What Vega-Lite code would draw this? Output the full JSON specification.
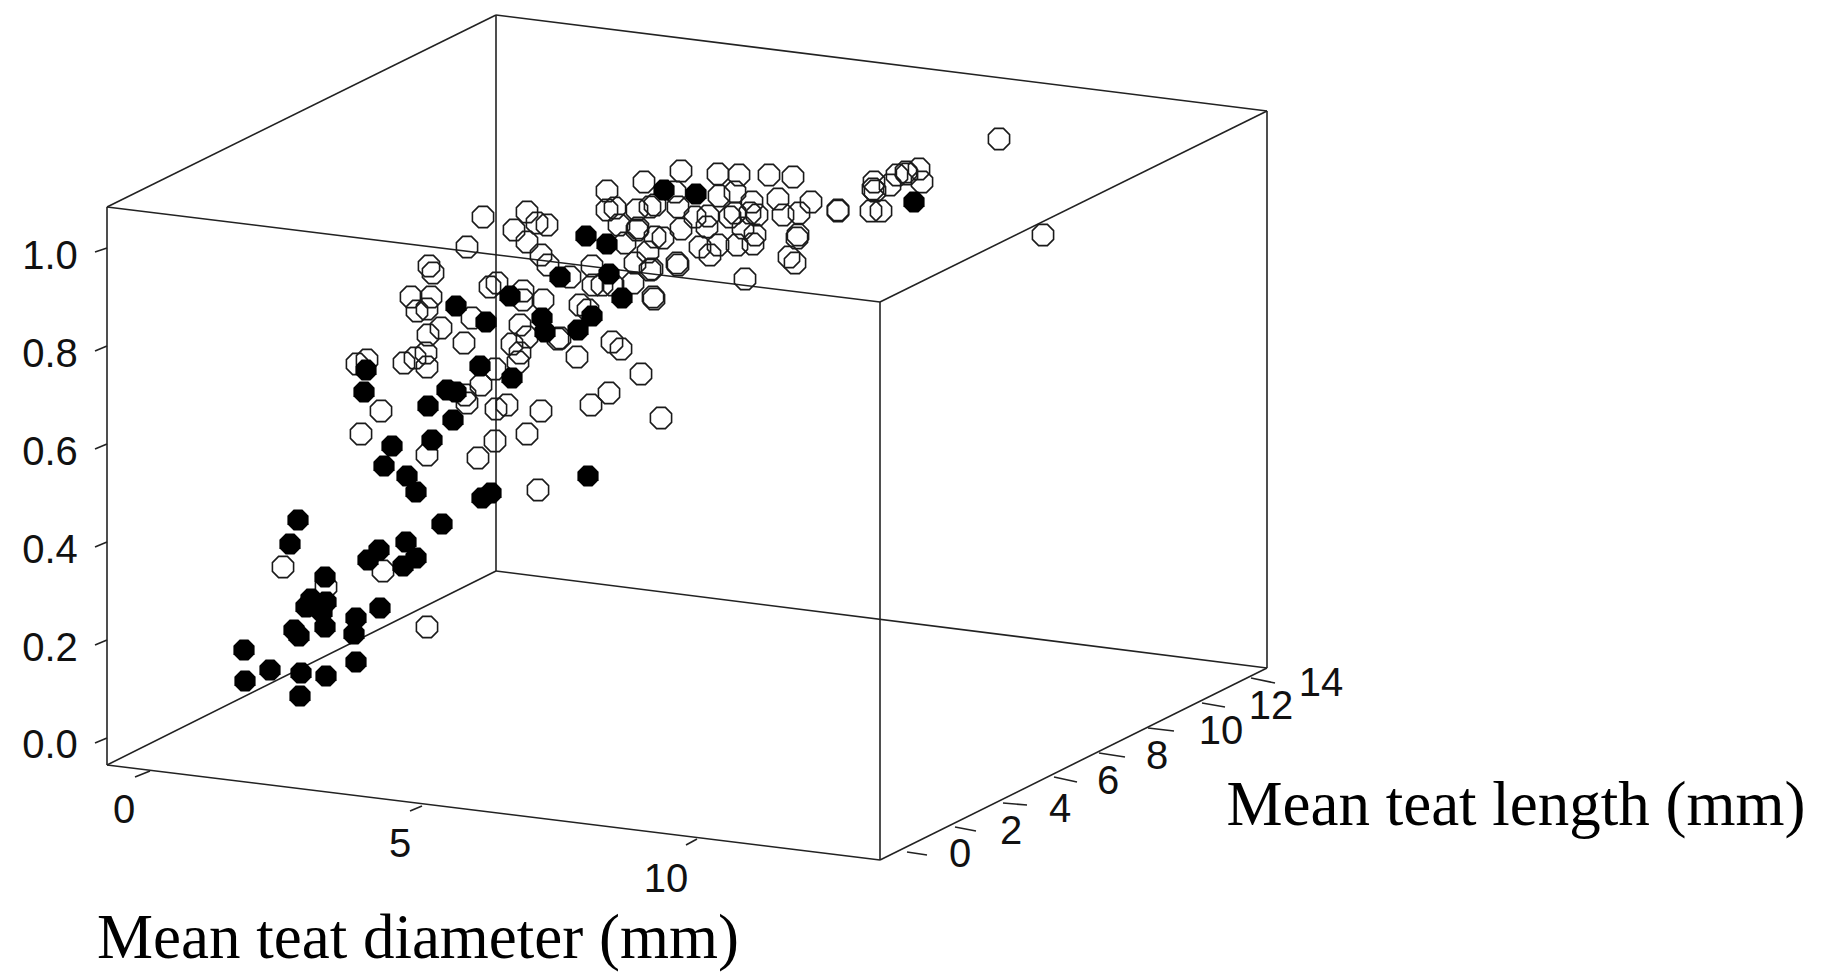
{"$schema":"https://vega.github.io/schema/vega-lite/v6.json","width":1821,"height":976,"padding":0,"autosize":{"type":"fit","contains":"padding"},"background":"white","view":{"stroke":null},
"datasets":{
"edges":[{"a":107,"b":207,"c":496,"d":15},{"a":496,"b":15,"c":1267,"d":111},{"a":1267,"b":111,"c":880,"d":302},{"a":880,"b":302,"c":107,"d":207},{"a":107,"b":207,"c":107,"d":765},{"a":496,"b":15,"c":496,"d":571},{"a":1267,"b":111,"c":1267,"d":668},{"a":880,"b":302,"c":880,"d":860},{"a":107,"b":765,"c":880,"d":860},{"a":880,"b":860,"c":1267,"d":668},{"a":1267,"b":668,"c":496,"d":571},{"a":496,"b":571,"c":107,"d":765},
{"a":135,"b":777,"c":150,"d":771},{"a":410,"b":811,"c":422,"d":806},{"a":686,"b":845,"c":697,"d":839},
{"a":907,"b":852,"c":927,"d":855},{"a":955,"b":827,"c":976,"d":831},{"a":1003,"b":803,"c":1027,"d":805},{"a":1054,"b":777,"c":1077,"d":782},{"a":1099,"b":753,"c":1125,"d":757},{"a":1148,"b":728,"c":1174,"d":731},{"a":1202,"b":703,"c":1225,"d":707},{"a":1251,"b":678,"c":1275,"d":683},
{"a":95,"b":252,"c":107,"d":248},{"a":95,"b":351,"c":107,"d":346},{"a":95,"b":449,"c":107,"d":444},{"a":95,"b":547,"c":107,"d":542},{"a":95,"b":645,"c":107,"d":640},{"a":95,"b":743,"c":107,"d":738}],
"open":[[283,567],[326,587],[383,571],[427,627],[361,434],[381,411],[427,455],[478,458],[495,441],[527,434],[483,217],[527,212],[537,223],[547,225],[514,230],[527,242],[467,247],[541,255],[429,266],[433,273],[548,265],[570,277],[592,266],[411,297],[431,297],[417,311],[427,309],[490,287],[497,283],[523,291],[543,300],[523,300],[472,318],[441,328],[428,335],[464,343],[520,325],[512,344],[527,337],[520,353],[518,362],[558,339],[577,357],[580,305],[588,310],[404,363],[415,358],[426,353],[427,367],[357,364],[367,360],[495,369],[481,385],[465,395],[467,403],[507,405],[496,409],[541,411],[591,405],[609,393],[641,374],[661,418],[538,490],[612,342],[621,349],[593,285],[602,285],[613,285],[625,243],[607,210],[615,208],[619,225],[637,210],[650,207],[638,228],[655,237],[663,238],[635,263],[650,270],[648,252],[633,283],[653,297],[654,299],[677,263],[607,191],[999,139],[1043,235],[681,171],[718,174],[739,175],[769,175],[793,177],[644,182],[675,192],[735,192],[719,196],[752,202],[778,199],[811,202],[655,205],[678,207],[695,217],[708,216],[735,213],[730,217],[757,215],[750,213],[783,215],[799,213],[838,210],[838,211],[871,211],[881,211],[874,182],[873,189],[875,191],[890,185],[897,175],[906,172],[907,174],[919,169],[922,182],[637,230],[681,229],[707,227],[700,247],[718,245],[737,245],[753,244],[755,235],[743,228],[798,235],[797,238],[710,255],[652,269],[678,265],[745,279],[789,257],[795,263],[560,338]],
"solid":[[298,520],[290,544],[325,577],[311,599],[306,607],[326,602],[322,612],[325,627],[294,630],[299,636],[356,618],[354,634],[380,608],[368,560],[379,550],[406,542],[416,558],[403,566],[442,524],[482,498],[491,493],[244,650],[245,681],[270,670],[301,673],[326,676],[356,662],[300,696],[392,446],[384,466],[407,476],[416,492],[432,440],[428,406],[453,420],[456,306],[486,322],[510,296],[560,277],[586,236],[607,244],[609,274],[622,298],[592,316],[578,330],[542,318],[545,332],[480,366],[512,378],[366,370],[364,392],[447,390],[456,392],[588,476],[664,190],[696,194],[914,202]],
"ticks":[{"t":"1.0","a":50,"b":269},{"t":"0.8","a":50,"b":367},{"t":"0.6","a":50,"b":465},{"t":"0.4","a":50,"b":563},{"t":"0.2","a":50,"b":661},{"t":"0.0","a":50,"b":758},{"t":"0","a":124,"b":823},{"t":"5","a":400,"b":857},{"t":"10","a":666,"b":892},{"t":"0","a":960,"b":867},{"t":"2","a":1011,"b":844},{"t":"4","a":1060,"b":822},{"t":"6","a":1108,"b":794},{"t":"8","a":1157,"b":769},{"t":"10","a":1221,"b":744},{"t":"12","a":1271,"b":719},{"t":"14","a":1321,"b":696}],
"titles":[{"t":"Mean teat diameter (mm)","a":418,"b":958,"fs":"diameter"},{"t":"Mean teat length (mm)","a":1516,"b":825,"fs":"length"}]
},
"layer":[
{"data":{"name":"edges"},"mark":{"type":"rule","stroke":"#222222","strokeWidth":1.6},"encoding":{"x":{"field":"a","type":"quantitative","scale":{"domain":[0,1821],"nice":false,"zero":false},"axis":null},"y":{"field":"b","type":"quantitative","scale":{"domain":[976,0],"nice":false,"zero":false},"axis":null},"x2":{"field":"c"},"y2":{"field":"d"}}},
{"data":{"name":"open"},"mark":{"type":"point","filled":false,"stroke":"#1a1a1a","strokeWidth":1.6,"opacity":1,"size":530,"shape":"M-0.38,-0.92L0.38,-0.92L0.92,-0.38L0.92,0.38L0.38,0.92L-0.38,0.92L-0.92,0.38L-0.92,-0.38Z"},"encoding":{"x":{"field":"0","type":"quantitative"},"y":{"field":"1","type":"quantitative"}}},
{"data":{"name":"solid"},"mark":{"type":"point","filled":true,"fill":"#000000","opacity":1,"size":530,"shape":"M-0.38,-0.92L0.38,-0.92L0.92,-0.38L0.92,0.38L0.38,0.92L-0.38,0.92L-0.92,0.38L-0.92,-0.38Z"},"encoding":{"x":{"field":"0","type":"quantitative"},"y":{"field":"1","type":"quantitative"}}},
{"data":{"name":"ticks"},"mark":{"type":"text","font":"Liberation Sans","fontSize":40,"fill":"#111111","align":"center","baseline":"alphabetic"},"encoding":{"x":{"field":"a","type":"quantitative"},"y":{"field":"b","type":"quantitative"},"text":{"field":"t"}}},
{"data":{"name":"titles"},"mark":{"type":"text","font":"Liberation Serif","fontSize":63,"fill":"#000000","align":"center","baseline":"alphabetic"},"encoding":{"x":{"field":"a","type":"quantitative"},"y":{"field":"b","type":"quantitative"},"text":{"field":"t"}}}
]}
